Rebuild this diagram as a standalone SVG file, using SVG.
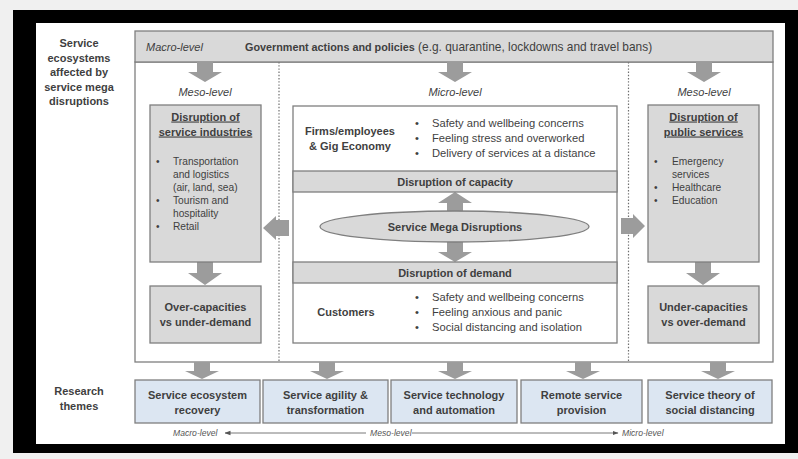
<svg xmlns="http://www.w3.org/2000/svg" width="798" height="459" viewBox="0 0 798 459">
  <style>
    text { font-family: "Liberation Sans", Arial, sans-serif; fill: #3f3f3f; }
    .b { font-weight: bold; font-size: 11px; }
    .r { font-size: 11.2px; }
    .s { font-size: 10.2px; }
    .i { font-style: italic; font-size: 11px; }
    .ax { font-style: italic; font-size: 8.6px; fill: #555; }
    .mid { text-anchor: middle; }
    .u { text-decoration: underline; }
    .gbox { fill: #d9d9d9; stroke: #7f7f7f; stroke-width: 1.3; }
    .wbox { fill: #ffffff; stroke: #7f7f7f; stroke-width: 1.3; }
    .tbox { fill: #dce6f2; stroke: #7f7f7f; stroke-width: 1.3; }
    .arr { fill: #9c9c9c; }
    .dot { stroke: #6f6f6f; stroke-width: 1.2; stroke-dasharray: 1.4 1.8; fill: none; }
    .axl { stroke: #555; stroke-width: 0.8; fill: none; }
  </style>
  <defs>
    <marker id="tip" viewBox="0 0 6 6" refX="5.5" refY="3" markerWidth="6" markerHeight="6" orient="auto-start-reverse" markerUnits="userSpaceOnUse">
      <path d="M0,0.8 L6,3 L0,5.2 Z" fill="#555"/>
    </marker>
  </defs>

  <!-- page frame -->
  <rect x="0" y="0" width="798" height="459" fill="#f0f0f0"/>
  <rect x="13" y="10" width="785" height="443" fill="#000"/>
  <rect x="36" y="23" width="749" height="421" fill="#fff"/>

  <!-- row labels -->
  <g id="label-ecosystems">
    <text class="b mid" x="79" y="47">Service</text>
    <text class="b mid" x="79" y="61.5">ecosystems</text>
    <text class="b mid" x="79" y="76">affected by</text>
    <text class="b mid" x="79" y="90.5">service mega</text>
    <text class="b mid" x="79" y="105">disruptions</text>
  </g>
  <g id="label-themes">
    <text class="b mid" x="79" y="395">Research</text>
    <text class="b mid" x="79" y="410">themes</text>
  </g>

  <!-- ecosystem container -->
  <rect id="ecosystem-area" class="wbox" x="135" y="62" width="638" height="300"/>
  <g id="level-dividers">
    <line class="dot" x1="279" y1="62" x2="279" y2="362"/>
    <line class="dot" x1="628.5" y1="62" x2="628.5" y2="362"/>
  </g>

  <!-- micro level core frame -->
  <rect id="micro-core" class="wbox" x="293" y="106" width="324" height="237"/>

  <!-- macro level bar -->
  <g id="macro-bar">
    <rect class="gbox" x="135" y="31" width="638" height="31"/>
    <text class="i" x="146" y="51">Macro-level</text>
    <text x="245" y="51" font-size="11.9"><tspan font-weight="bold" font-size="10.8">Government actions and policies</tspan> (e.g. quarantine, lockdowns and travel bans)</text>
  </g>

  <!-- connectors -->
  <g id="connectors">
    <!-- from macro bar -->
    <path class="arr" d="M197,62 H213 V72 H222 L205,82 L188,72 H197 Z"/>
    <path class="arr" d="M447,62 H463 V72 H472 L455,82 L438,72 H447 Z"/>
    <path class="arr" d="M696,62 H712 V72 H721 L704,82 L687,72 H696 Z"/>
    <!-- within meso columns -->
    <path class="arr" d="M197,262 H213 V273 H222 L205,285 L188,273 H197 Z"/>
    <path class="arr" d="M695,262 H711 V273 H720 L703,285 L686,273 H695 Z"/>
    <!-- from micro core to meso columns -->
    <path class="arr" d="M289,220 V236 H276 V240 L263,228 L276,216 V220 Z"/>
    <path class="arr" d="M621,218 V234 H633 V238 L645,226 L633,214 V218 Z"/>
    <!-- mega disruptions to capacity / demand -->
    <path class="arr" d="M455,192 L472,203 H463 V252 H472 L455,262 L438,252 H447 V203 H438 Z"/>
    <!-- to research themes -->
    <path class="arr" d="M194,362 H210 V371 H219 L202,379 L185,371 H194 Z"/>
    <path class="arr" d="M319,362 H335 V371 H344 L327,379 L310,371 H319 Z"/>
    <path class="arr" d="M447,362 H463 V371 H472 L455,379 L438,371 H447 Z"/>
    <path class="arr" d="M575,362 H591 V371 H600 L583,379 L566,371 H575 Z"/>
    <path class="arr" d="M710,362 H726 V371 H735 L718,379 L701,371 H710 Z"/>
  </g>

  <!-- meso level: service industries -->
  <text class="i mid" x="205" y="96">Meso-level</text>
  <g id="service-industries">
    <rect class="gbox" x="150" y="105" width="111" height="157"/>
    <text class="b mid u" x="205.5" y="120.5">Disruption of</text>
    <text class="b mid u" x="205.5" y="135.5">service industries</text>
    <text class="s" x="156" y="165">•</text>
    <text class="s" x="173" y="165">Transportation</text>
    <text class="s" x="173" y="178">and logistics</text>
    <text class="s" x="173" y="191">(air, land, sea)</text>
    <text class="s" x="156" y="204">•</text>
    <text class="s" x="173" y="204">Tourism and</text>
    <text class="s" x="173" y="217">hospitality</text>
    <text class="s" x="156" y="230">•</text>
    <text class="s" x="173" y="230">Retail</text>
  </g>
  <g id="over-capacities">
    <rect class="gbox" x="150" y="286" width="111" height="57"/>
    <text class="b mid" x="205.5" y="311">Over-capacities</text>
    <text class="b mid" x="205.5" y="326">vs under-demand</text>
  </g>

  <!-- meso level: public services -->
  <text class="i mid" x="704" y="96">Meso-level</text>
  <g id="public-services">
    <rect class="gbox" x="648" y="105" width="111" height="157"/>
    <text class="b mid u" x="703.5" y="120.5">Disruption of</text>
    <text class="b mid u" x="703.5" y="135.5">public services</text>
    <text class="s" x="654" y="165">•</text>
    <text class="s" x="672" y="165">Emergency</text>
    <text class="s" x="672" y="178">services</text>
    <text class="s" x="654" y="191">•</text>
    <text class="s" x="672" y="191">Healthcare</text>
    <text class="s" x="654" y="204">•</text>
    <text class="s" x="672" y="204">Education</text>
  </g>
  <g id="under-capacities">
    <rect class="gbox" x="648" y="286" width="111" height="57"/>
    <text class="b mid" x="703.5" y="311">Under-capacities</text>
    <text class="b mid" x="703.5" y="326">vs over-demand</text>
  </g>

  <!-- micro level core -->
  <text class="i mid" x="455" y="96">Micro-level</text>
  <g id="firms">
    <text class="b mid" x="350" y="135">Firms/employees</text>
    <text class="b mid" x="350" y="150">&amp; Gig Economy</text>
    <text class="r" x="415" y="127">•</text>
    <text class="r" x="432" y="127">Safety and wellbeing concerns</text>
    <text class="r" x="415" y="142">•</text>
    <text class="r" x="432" y="142">Feeling stress and overworked</text>
    <text class="r" x="415" y="157">•</text>
    <text class="r" x="432" y="157">Delivery of services at a distance</text>
  </g>
  <g id="capacity">
    <rect class="gbox" x="293" y="171" width="324" height="21"/>
    <text class="b mid" x="455" y="186">Disruption of capacity</text>
  </g>
  <g id="mega-disruptions">
    <ellipse class="gbox" cx="454.5" cy="226.5" rx="134.5" ry="15.5"/>
    <text class="b mid" x="455" y="231">Service Mega Disruptions</text>
  </g>
  <g id="demand">
    <rect class="gbox" x="293" y="262" width="324" height="21"/>
    <text class="b mid" x="455" y="277">Disruption of demand</text>
  </g>
  <g id="customers">
    <text class="b mid" x="346" y="316">Customers</text>
    <text class="r" x="415" y="301">•</text>
    <text class="r" x="432" y="301">Safety and wellbeing concerns</text>
    <text class="r" x="415" y="316">•</text>
    <text class="r" x="432" y="316">Feeling anxious and panic</text>
    <text class="r" x="415" y="331">•</text>
    <text class="r" x="432" y="331">Social distancing and isolation</text>
  </g>

  <!-- research themes -->
  <g id="theme-recovery">
    <rect class="tbox" x="135" y="380" width="125" height="43"/>
    <text class="b mid" x="197.5" y="399">Service ecosystem</text>
    <text class="b mid" x="197.5" y="414">recovery</text>
  </g>
  <g id="theme-agility">
    <rect class="tbox" x="263" y="380" width="125" height="43"/>
    <text class="b mid" x="325.5" y="399">Service agility &amp;</text>
    <text class="b mid" x="325.5" y="414">transformation</text>
  </g>
  <g id="theme-technology">
    <rect class="tbox" x="391" y="380" width="126" height="43"/>
    <text class="b mid" x="454" y="399">Service technology</text>
    <text class="b mid" x="454" y="414">and automation</text>
  </g>
  <g id="theme-remote">
    <rect class="tbox" x="521" y="380" width="121" height="43"/>
    <text class="b mid" x="581.5" y="399">Remote service</text>
    <text class="b mid" x="581.5" y="414">provision</text>
  </g>
  <g id="theme-distancing">
    <rect class="tbox" x="648" y="380" width="124" height="43"/>
    <text class="b mid" x="710" y="399">Service theory of</text>
    <text class="b mid" x="710" y="414">social distancing</text>
  </g>

  <!-- level axis -->
  <g id="level-axis">
    <text class="ax" x="173" y="436">Macro-level</text>
    <line class="axl" x1="366" y1="433" x2="225" y2="433" marker-end="url(#tip)"/>
    <text class="ax" x="370" y="436">Meso-level</text>
    <line class="axl" x1="412" y1="433" x2="618" y2="433" marker-end="url(#tip)"/>
    <text class="ax" x="622" y="436">Micro-level</text>
  </g>
</svg>
